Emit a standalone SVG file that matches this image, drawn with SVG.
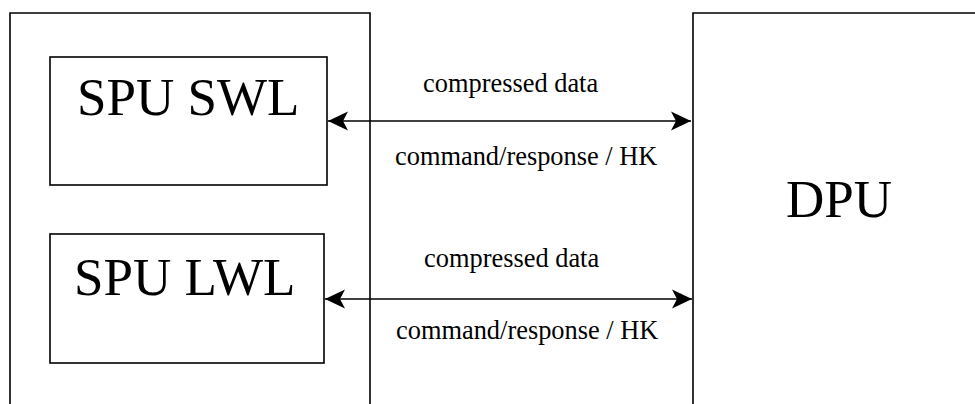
<svg xmlns="http://www.w3.org/2000/svg" width="975" height="404" viewBox="0 0 975 404">
  <style>
    .box { fill: none; stroke: #000; stroke-width: 1.6; }
    .big { font-family: "Liberation Serif", "Times New Roman", serif; font-size: 53px; fill: #000; }
    .lbl { font-family: "Liberation Serif", "Times New Roman", serif; font-size: 26.4px; fill: #000; }
    .link { stroke: #000; stroke-width: 1.6; fill: none; marker-start: url(#head); marker-end: url(#head); }
  </style>
  <defs>
    <marker id="head" viewBox="0 0 20 20" refX="20" refY="10" markerWidth="20" markerHeight="20" markerUnits="userSpaceOnUse" orient="auto-start-reverse">
      <path d="M20,10 L0,0.5 L5,10 L0,19.5 Z" fill="#000"/>
    </marker>
  </defs>

  <rect width="975" height="404" fill="#fff"/>

  <!-- SPU enclosure, open at the bottom -->
  <g id="spu">
    <path class="box" d="M10,410 V13 H370 V410"/>
  </g>

  <g id="spu-swl">
    <rect class="box" x="50" y="57" width="277" height="128"/>
    <text class="big" x="77" y="115">SPU SWL</text>
  </g>

  <g id="spu-lwl">
    <rect class="box" x="50" y="234" width="274" height="129"/>
    <text class="big" x="74" y="295">SPU LWL</text>
  </g>

  <g id="dpu">
    <path class="box" d="M693,410 V13 H985"/>
    <text class="big" x="786" y="217">DPU</text>
  </g>

  <!-- bidirectional links between the SPU parts and the DPU -->
  <g id="connectors">
    <line class="link" x1="328" y1="121" x2="691" y2="121"/>
    <line class="link" x1="325" y1="299" x2="692" y2="299"/>
  </g>

  <g id="labels">
    <text class="lbl" x="423" y="92">compressed data</text>
    <text class="lbl" x="395" y="165">command/response / HK</text>
    <text class="lbl" x="424" y="267">compressed data</text>
    <text class="lbl" x="396" y="339">command/response / HK</text>
  </g>
</svg>
